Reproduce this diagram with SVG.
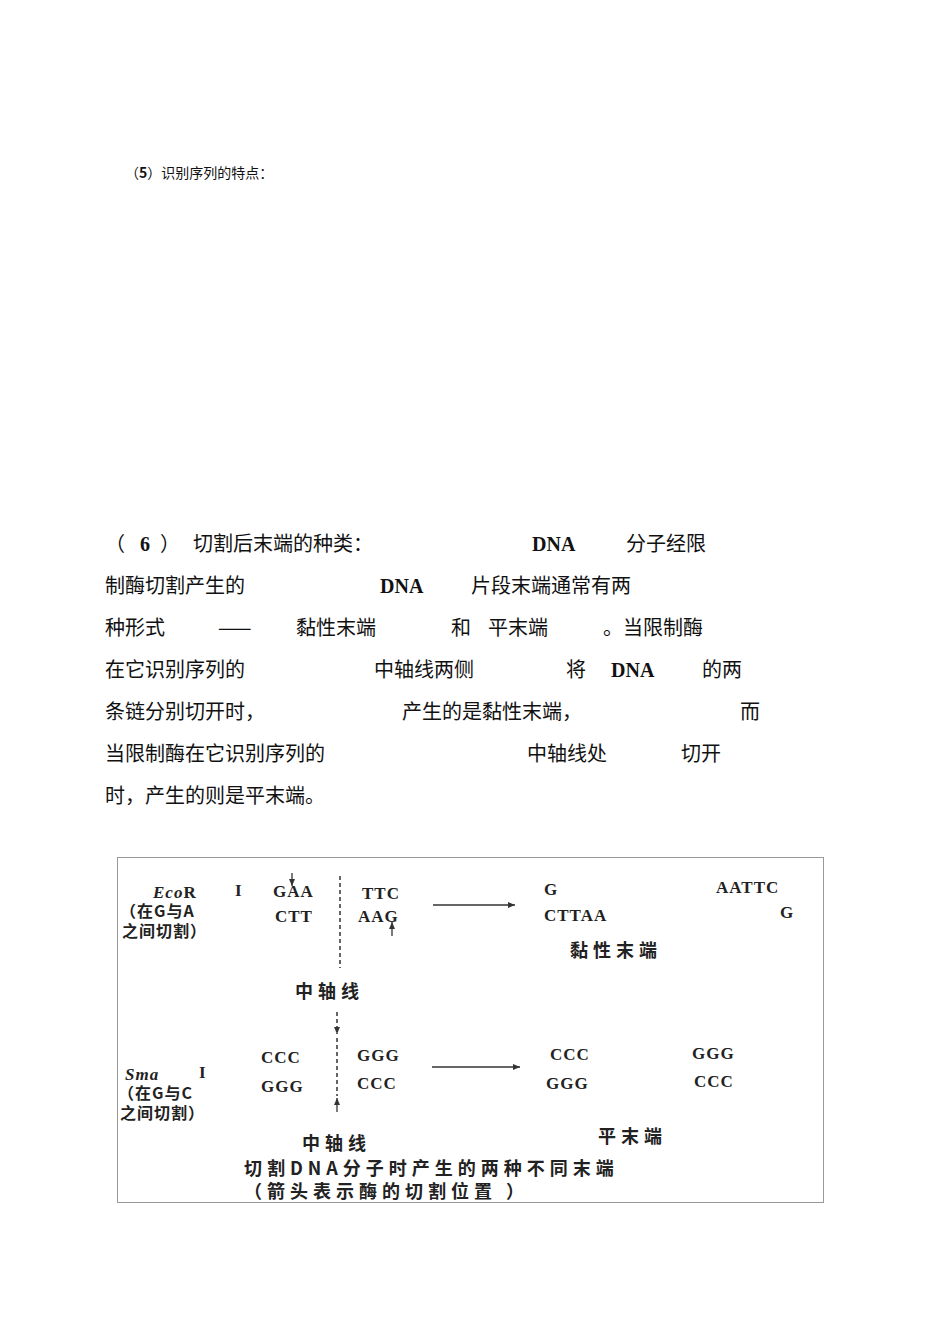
<svg xmlns="http://www.w3.org/2000/svg" width="950" height="1344" viewBox="0 0 950 1344">
<style>
.t{font-family:"Noto Sans CJK SC","Liberation Serif",serif;font-size:20px;fill:#111}
.b{font-family:"Liberation Serif",serif;font-weight:bold;font-size:20px;fill:#111}
.d{font-family:"Liberation Serif","Noto Sans CJK SC",serif;font-weight:bold;font-size:17px;fill:#222;letter-spacing:1px}
.c{font-family:"Noto Sans CJK SC",sans-serif;font-weight:bold;font-size:18px;fill:#222;letter-spacing:5px}
.p{font-family:"Noto Sans CJK SC",sans-serif;font-weight:bold;font-size:16px;fill:#222;letter-spacing:1px}
.ln{stroke:#333;stroke-width:1.3;fill:none}
.ds{stroke:#333;stroke-width:1.5;stroke-dasharray:4,3;fill:none}
</style>
<defs><marker id="ah" markerWidth="8" markerHeight="8" refX="7" refY="4" orient="auto" markerUnits="userSpaceOnUse"><path d="M0,1 L7,4 L0,7 Z" fill="#333"/></marker></defs>
<rect width="950" height="1344" fill="#fff"/>
<text x="125" y="178" style="font-family:'Noto Sans CJK SC',sans-serif;font-size:14px;fill:#111">（<tspan font-weight="bold">5</tspan>）识别序列的特点：</text>
<g id="para">
<text class="t" x="105" y="551">（</text><text class="b" x="140" y="551">6</text><text class="t" x="160" y="551">）</text><text class="t" x="193" y="551">切割后末端的种类：</text><text class="b" x="532" y="551">DNA</text><text class="t" x="626" y="551">分子经限</text>
<text class="t" x="105" y="593">制酶切割产生的</text><text class="b" x="380" y="593">DNA</text><text class="t" x="471" y="593">片段末端通常有两</text>
<text class="t" x="105" y="635">种形式</text><text class="t" x="218" y="635">——</text><text class="t" x="296" y="635">黏性末端</text><text class="t" x="451" y="635">和</text><text class="t" x="488" y="635">平末端</text><text class="t" x="603" y="635">。当限制酶</text>
<text class="t" x="105" y="677">在它识别序列的</text><text class="t" x="374" y="677">中轴线两侧</text><text class="t" x="566" y="677">将</text><text class="b" x="611" y="677">DNA</text><text class="t" x="702" y="677">的两</text>
<text class="t" x="105" y="719">条链分别切开时，</text><text class="t" x="402" y="719">产生的是黏性末端，</text><text class="t" x="740" y="719">而</text>
<text class="t" x="105" y="761">当限制酶在它识别序列的</text><text class="t" x="527" y="761">中轴线处</text><text class="t" x="681" y="761">切开</text>
<text class="t" x="105" y="803">时，产生的则是平末端。</text>
</g>
<rect x="117.5" y="857.5" width="706" height="345" fill="none" stroke="#999" stroke-width="1"/>
<g id="ecor">
<text class="d" x="153" y="898" letter-spacing="2"><tspan font-style="italic">Eco</tspan>R</text><text class="d" x="235" y="896">I</text>
<text class="p" x="120" y="917">（在G与A</text>
<text class="p" x="122" y="937">之间切割）</text>
<text class="d" x="273" y="897">GAA</text><text class="d" x="275" y="922">CTT</text>
<text class="d" x="362" y="899">TTC</text><text class="d" x="358" y="922">AAG</text>
<text class="d" x="544" y="895">G</text><text class="d" x="544" y="921">CTTAA</text>
<text class="d" x="716" y="893">AATTC</text><text class="d" x="780" y="918">G</text>
<text class="c" x="570" y="957" letter-spacing="7">黏性末端</text>
<text class="c" x="295" y="998">中轴线</text>
</g>
<g id="sma">
<text class="d" x="125" y="1080" letter-spacing="3"><tspan font-style="italic">Sma</tspan></text><text class="d" x="199" y="1078">I</text>
<text class="p" x="118" y="1099">（在G与C</text>
<text class="p" x="120" y="1119">之间切割）</text>
<text class="d" x="261" y="1063">CCC</text><text class="d" x="261" y="1092">GGG</text>
<text class="d" x="357" y="1061">GGG</text><text class="d" x="357" y="1089">CCC</text>
<text class="d" x="550" y="1060">CCC</text><text class="d" x="546" y="1089">GGG</text>
<text class="d" x="692" y="1059">GGG</text><text class="d" x="694" y="1087">CCC</text>
<text class="c" x="598" y="1143" letter-spacing="7">平末端</text>
<text class="c" x="302" y="1150">中轴线</text>
<text class="c" x="244" y="1175" letter-spacing="5">切割DNA分子时产生的两种不同末端</text>
<text class="c" x="244" y="1198" letter-spacing="6">（箭头表示酶的切割位置 ）</text>
</g>
<g id="connectors">
<line class="ds" x1="340" y1="876" x2="340" y2="968"/>
<line class="ln" x1="292" y1="873" x2="292" y2="886" marker-end="url(#ah)"/>
<line class="ln" x1="392" y1="936" x2="392" y2="922" marker-end="url(#ah)"/>
<line class="ln" x1="433" y1="905" x2="515" y2="905" marker-end="url(#ah)"/>
<line class="ds" x1="337" y1="1012" x2="337" y2="1034" marker-end="url(#ah)"/>
<line class="ds" x1="337" y1="1038" x2="337" y2="1096"/>
<line class="ln" x1="337" y1="1112" x2="337" y2="1098" marker-end="url(#ah)"/>
<line class="ln" x1="432" y1="1067" x2="520" y2="1067" marker-end="url(#ah)"/>
</g>
</svg>
